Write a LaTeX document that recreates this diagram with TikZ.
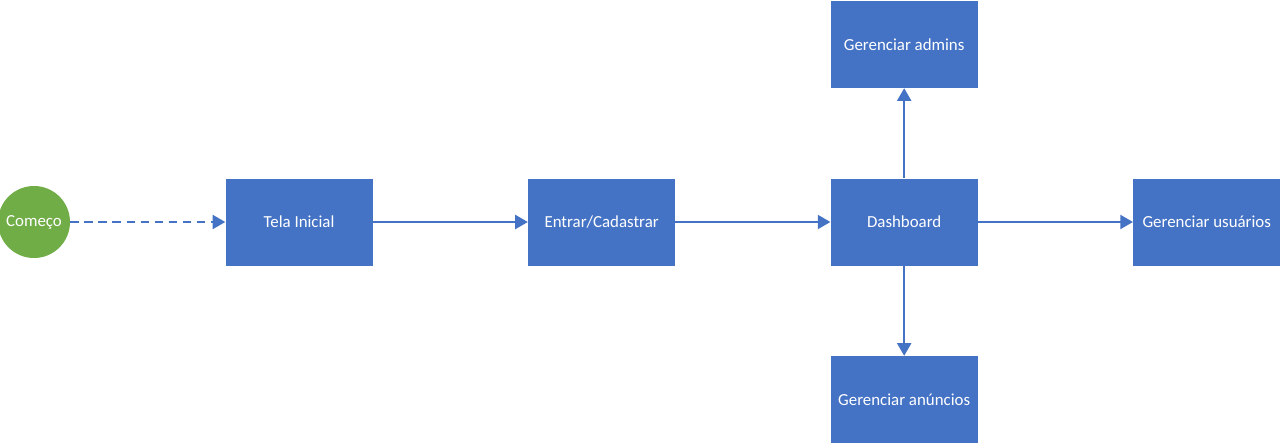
\documentclass[tikz,border=0pt]{standalone}
\usepackage{fontspec}
\setmainfont{Carlito}
\usetikzlibrary{positioning,arrows.meta}

\definecolor{boxblue}{HTML}{4472C4}
\definecolor{startgreen}{HTML}{70AD47}

\begin{document}
\begin{tikzpicture}[
    node distance=3.875cm and 3.875cm,
    etapa/.style={
        fill=boxblue,
        draw=none,
        text=white,
        minimum width=3.675cm,
        minimum height=2.175cm,
        inner sep=0pt,
        font=\fontsize{12}{14}\selectfont
    },
    inicio/.style={
        circle,
        fill=startgreen,
        text=white,
        minimum size=1.8cm,
        inner sep=0pt,
        font=\fontsize{12}{14}\selectfont
    },
    seta/.style={
        draw=boxblue,
        line width=1.4pt,
        -{Triangle[length=9pt,width=10pt]}
    }
]

\useasboundingbox (0,0) rectangle (32,11.1);

\node(comeco) [inicio] at (0.85, 5.55) {Começo};
\node(tela) [etapa, right=of comeco] {Tela Inicial};
\node(entrar) [etapa, right=of tela] {Entrar/Cadastrar};
\node(dash) [etapa, right=of entrar] {Dashboard};
\node(usuarios) [etapa, right=of dash] {Gerenciar usuários};
\node(admins) [etapa, above=2.25cm of dash] {Gerenciar admins};
\node(anuncios) [etapa, below=2.25cm of dash] {Gerenciar anúncios};

\draw[seta, dash pattern=on 6pt off 4pt] (comeco) -- (tela);
\draw[seta] (tela) -- (entrar);
\draw[seta] (entrar) -- (dash);
\draw[seta] (dash) -- (usuarios);
\draw[seta] (dash) -- (admins);
\draw[seta] (dash) -- (anuncios);

\end{tikzpicture}
\end{document}
